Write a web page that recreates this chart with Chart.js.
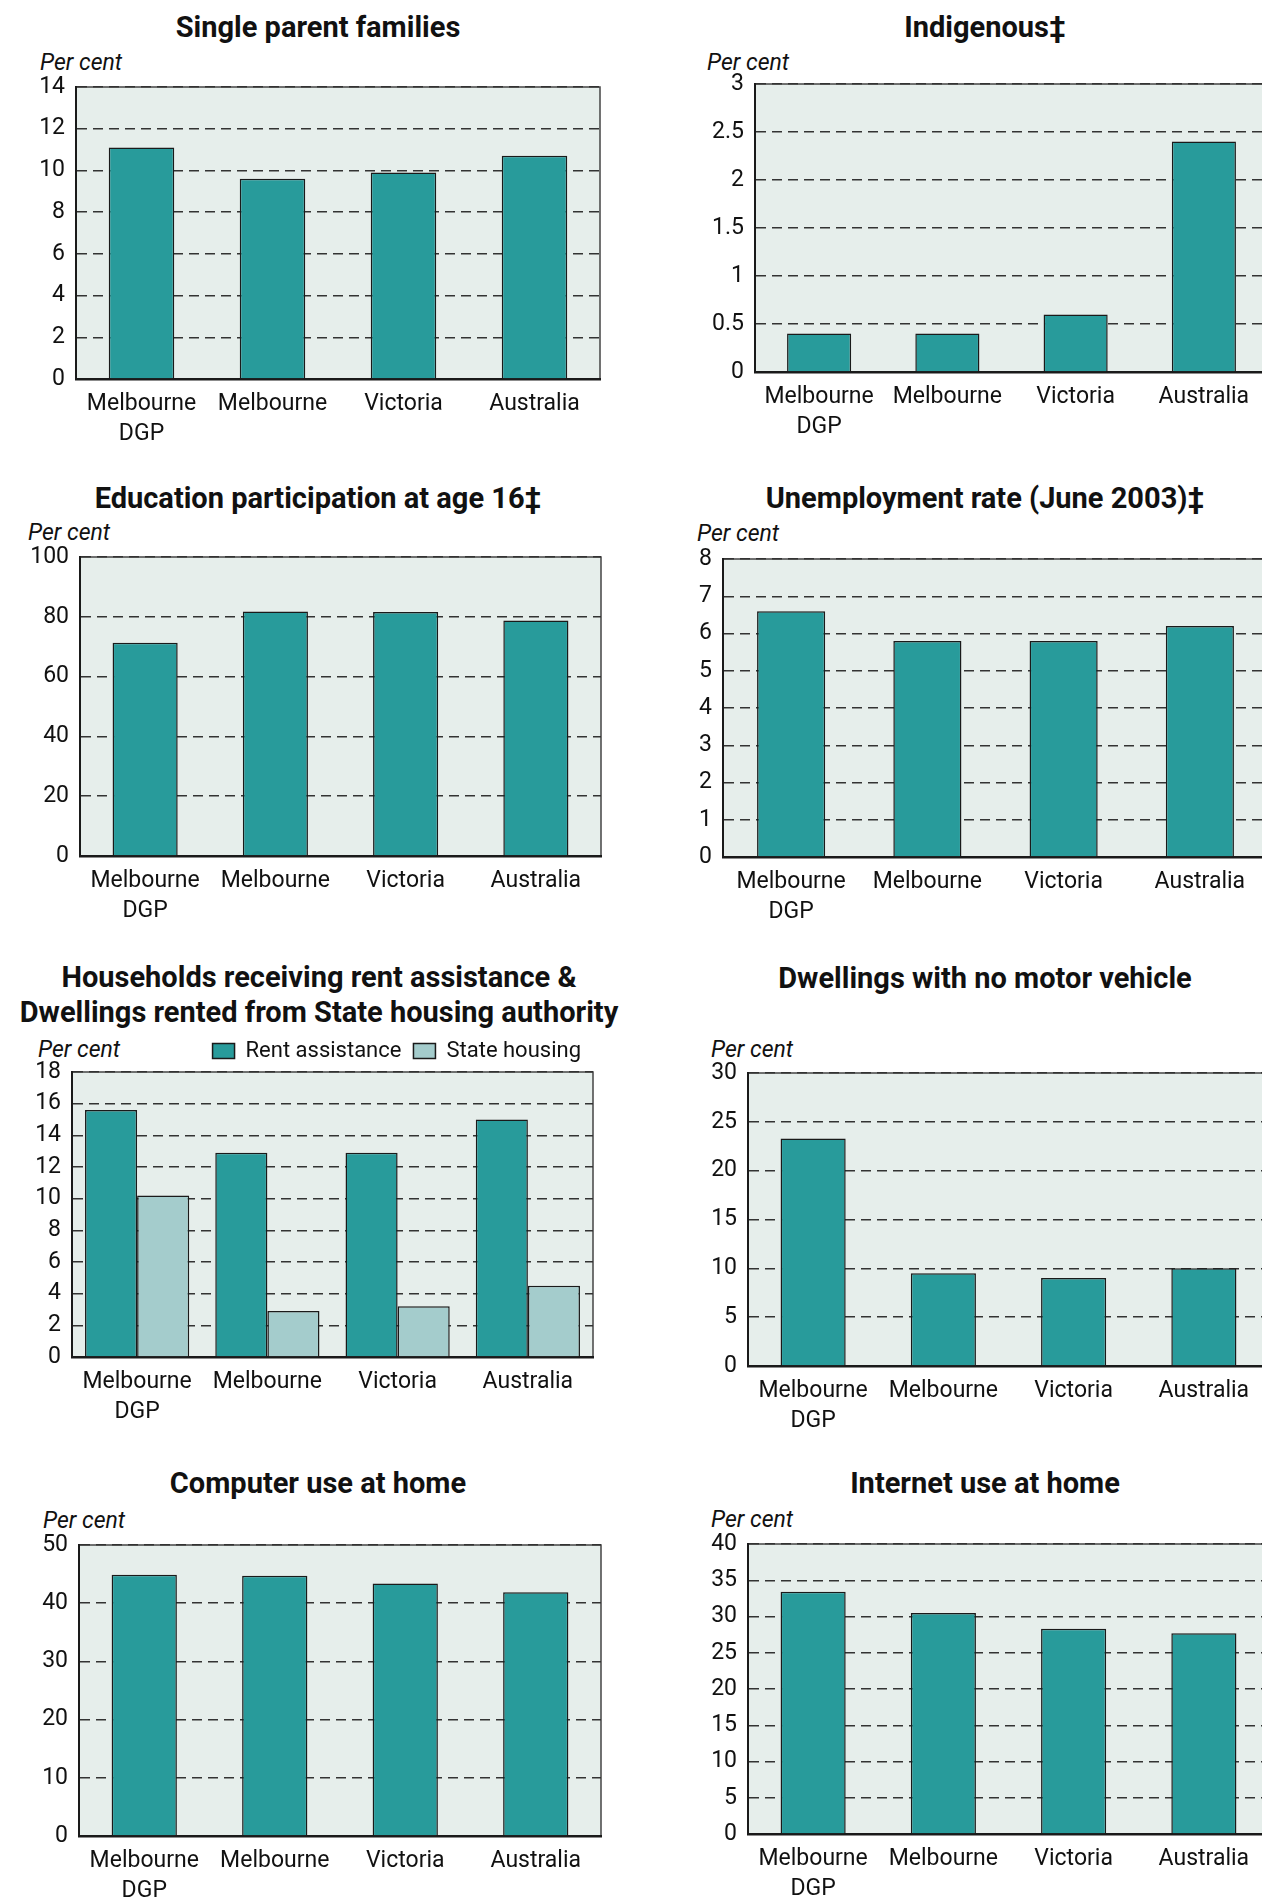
<!DOCTYPE html>
<html>
<head>
<meta charset="utf-8">
<script src="https://cdn.jsdelivr.net/npm/chart.js@4.4.1/dist/chart.umd.min.js"></script>
<style>
html, body { margin: 0; padding: 0; background: #fff; }
body {
    width: 1262px; height: 1897px; overflow: hidden; position: relative;
    font-family: Roboto, sans-serif; color: #111;
}
.title {
    position: absolute; transform: translate(-50%, -50%);
    font-weight: bold; font-size: 29px; line-height: 35px;
    white-space: nowrap; text-align: center;
}
.unit {
    position: absolute; transform: translateY(-50%);
    font-style: italic; font-size: 23px; white-space: nowrap;
}
.box { position: absolute; }
</style>
</head>
<body>
<script>
// ------------------- DATA -------------------
const categories = [['Melbourne', 'DGP'], 'Melbourne', 'Victoria', 'Australia'];

const singleParent   = [11.1, 9.6, 9.9, 10.7];
const indigenous     = [0.4, 0.4, 0.6, 2.4];
const education16    = [71.3, 81.8, 81.6, 78.8];
const unemployment   = [6.6, 5.8, 5.8, 6.2];
const rentAssistance = [15.6, 12.9, 12.9, 15.0];
const stateHousing   = [10.2, 2.9, 3.2, 4.5];
const noVehicle      = [23.3, 9.5, 9.0, 10.0];
const computerUse    = [44.9, 44.7, 43.4, 41.9];
const internetUse    = [33.4, 30.5, 28.3, 27.7];

// y axis ranges [max, step]
const singleParentAxis = [14, 2];
const indigenousAxis   = [3, 0.5];
const educationAxis    = [100, 20];
const unemployAxis     = [8, 1];
const rentAxis         = [18, 2];
const vehicleAxis      = [30, 5];
const computerAxis     = [50, 10];
const internetAxis     = [40, 5];

// ------------------- STYLE -------------------
const TEAL = '#289b9b';
const LIGHT = '#a4cccc';
const PLOT_BG = '#e6eeeb';
const INK = '#1a1a1a';

Chart.defaults.font.family = 'Roboto, sans-serif';
Chart.defaults.font.size = 23;
Chart.defaults.color = '#111';

const YW = 66;   // y axis width
const XH = 66;   // x axis height
const PAD_TOP = 26;   // must cover half the top tick label + tick padding
const LEGEND_PAD = 12;
const LEGEND_H = 22 + LEGEND_PAD + 10;

// plot = [left, top, right, bottom] of the plot area (right-hand plots run to the page edge)
const panels = [
    { title: ['Single parent families'], series: [['Single parent families', singleParent, TEAL]],
      axis: singleParentAxis, plot: [76, 87, 600, 379], titleAt: [318, 27], unitAt: [40, 62] },
    { title: ['Indigenous‡'], series: [['Indigenous', indigenous, TEAL]],
      axis: indigenousAxis, plot: [755, 84, 1268, 372], titleAt: [985, 27], unitAt: [707, 62] },
    { title: ['Education participation at age 16‡'], series: [['Education participation', education16, TEAL]],
      axis: educationAxis, plot: [80, 557, 601, 856], titleAt: [318, 498], unitAt: [28, 532] },
    { title: ['Unemployment rate (June 2003)‡'], series: [['Unemployment rate', unemployment, TEAL]],
      axis: unemployAxis, plot: [723, 559, 1268, 857], titleAt: [985, 498], unitAt: [697, 533] },
    { title: ['Households receiving rent assistance &', 'Dwellings rented from State housing authority'],
      series: [['Rent assistance', rentAssistance, TEAL], ['State housing', stateHousing, LIGHT]],
      axis: rentAxis, plot: [72, 1072, 593, 1357], titleAt: [319, 995], unitAt: [38, 1049], legend: true },
    { title: ['Dwellings with no motor vehicle'], series: [['No motor vehicle', noVehicle, TEAL]],
      axis: vehicleAxis, plot: [748, 1073, 1269, 1366], titleAt: [985, 978], unitAt: [711, 1049] },
    { title: ['Computer use at home'], series: [['Computer use', computerUse, TEAL]],
      axis: computerAxis, plot: [79, 1545, 601, 1836], titleAt: [318, 1483], unitAt: [43, 1520] },
    { title: ['Internet use at home'], series: [['Internet use', internetUse, TEAL]],
      axis: internetAxis, plot: [748, 1544, 1269, 1834], titleAt: [985, 1483], unitAt: [711, 1519] }
];

// ------------------- PLOT FRAME -------------------
const plotFrame = {
    id: 'plotFrame',
    beforeDraw(chart) {
        const a = chart.chartArea;
        const ctx = chart.ctx;
        ctx.save();
        ctx.fillStyle = PLOT_BG;
        ctx.fillRect(a.left, a.top, a.right - a.left, a.bottom - a.top);
        ctx.strokeStyle = '#444';
        ctx.lineWidth = 1.5;
        ctx.strokeRect(a.left, a.top, a.right - a.left, a.bottom - a.top);
        ctx.restore();
    }
};

// ------------------- BUILD -------------------
function addText(cls, text, x, y) {
    const el = document.createElement('div');
    el.className = cls;
    el.innerHTML = text;
    el.style.left = x + 'px';
    el.style.top = y + 'px';
    document.body.appendChild(el);
}

panels.forEach(p => {
    addText('title', p.title.map(t => t.replace('&', '&amp;')).join('<br>'), p.titleAt[0], p.titleAt[1]);
    addText('unit', 'Per cent', p.unitAt[0], p.unitAt[1]);

    const [l, t, r, b] = p.plot;
    const padTop = p.legend ? 0 : PAD_TOP;
    const top = t - padTop - (p.legend ? LEGEND_H : 0);
    const left = l - YW;

    const box = document.createElement('div');
    box.className = 'box';
    box.style.left = left + 'px';
    box.style.top = top + 'px';
    box.style.width = (r + 6 - left) + 'px';
    box.style.height = (b + XH + 4 - top) + 'px';
    const canvas = document.createElement('canvas');
    box.appendChild(canvas);
    document.body.appendChild(box);

    const grouped = p.series.length > 1;

    new Chart(canvas, {
        type: 'bar',
        data: {
            labels: categories,
            datasets: p.series.map(([name, values, color]) => ({
                label: name,
                data: values,
                backgroundColor: color,
                borderColor: INK,
                borderWidth: 1.5,
                barPercentage: grouped ? 1 : 0.5,
                categoryPercentage: grouped ? 0.8 : 1
            }))
        },
        options: {
            responsive: true,
            maintainAspectRatio: false,
            animation: false,
            layout: { padding: { top: padTop, right: 6, bottom: 4, left: 0 } },
            plugins: {
                tooltip: { enabled: false },
                legend: {
                    display: !!p.legend,
                    position: 'top',
                    align: 'end',
                    labels: { boxWidth: 22, boxHeight: 15, padding: LEGEND_PAD, font: { size: 22 }, color: '#111' }
                }
            },
            scales: {
                x: {
                    grid: { display: false, drawTicks: false },
                    border: { display: true, color: INK, width: 2.5 },
                    ticks: { padding: 11, maxRotation: 0, autoSkip: false, font: { size: 23, lineHeight: 1.27 } },
                    afterFit: s => { s.height = XH; }
                },
                y: {
                    min: 0,
                    max: p.axis[0],
                    grid: { color: '#333', lineWidth: 1.5, drawTicks: false },
                    border: { display: true, color: INK, width: 2, dash: [10, 6] },
                    ticks: { stepSize: p.axis[1], padding: 11, font: { size: 23 }, callback: v => String(v) },
                    afterFit: s => { s.width = YW; }
                }
            }
        },
        plugins: [plotFrame]
    });
});
</script>
</body>
</html>
